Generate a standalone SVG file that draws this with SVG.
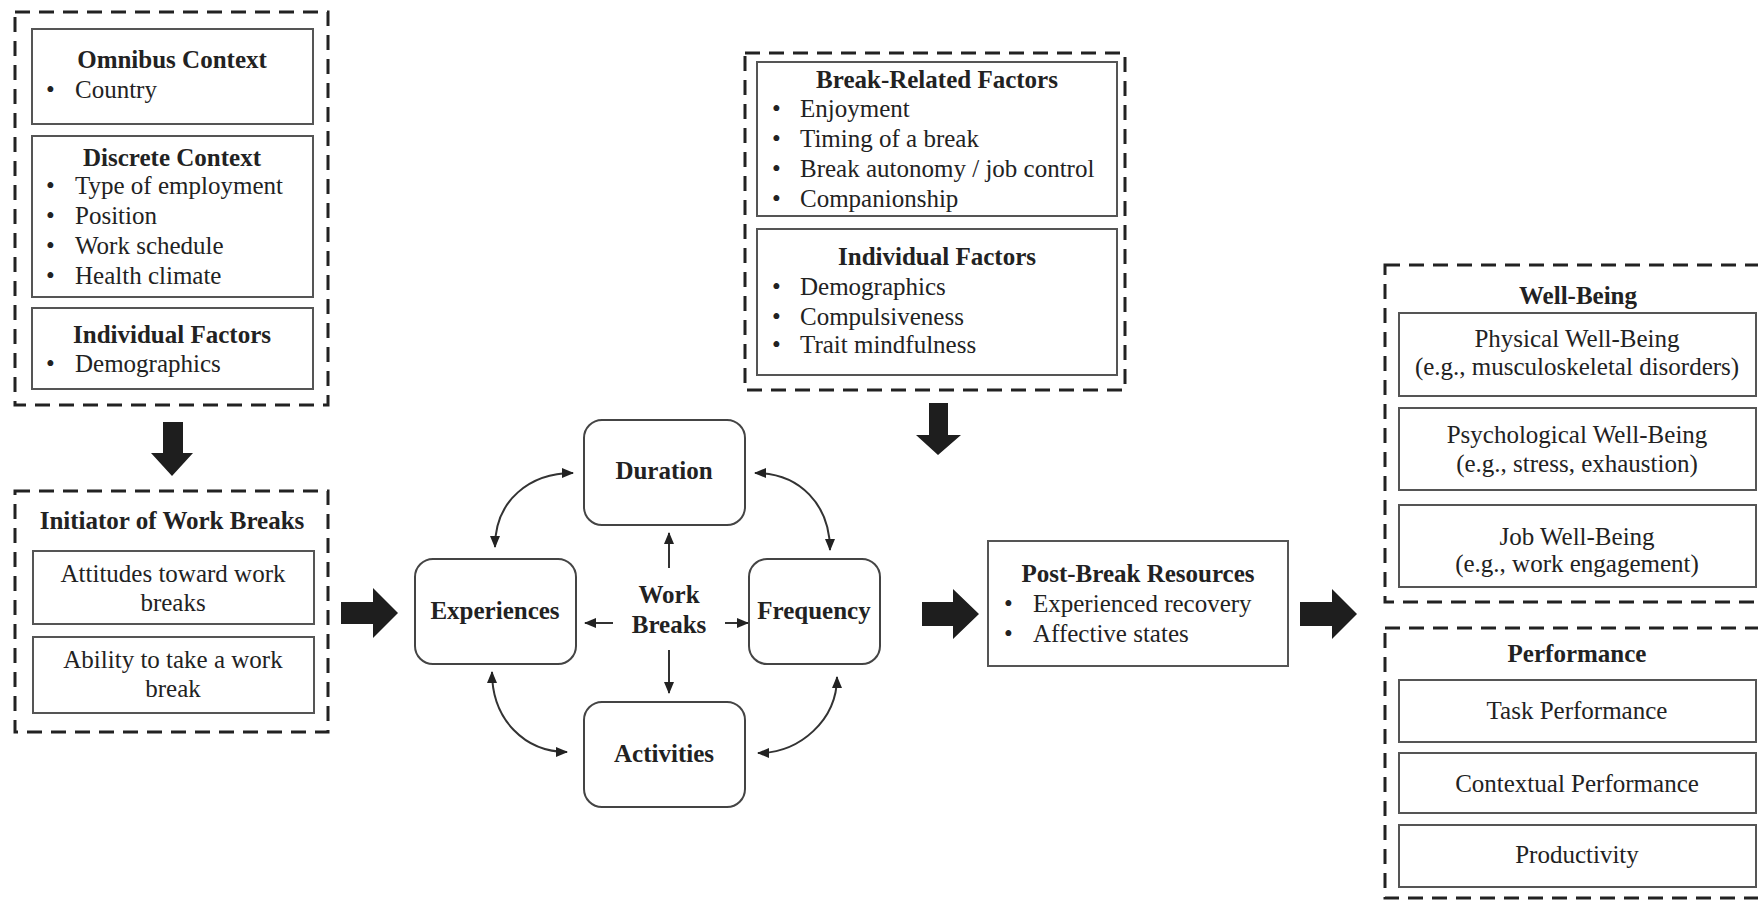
<svg xmlns="http://www.w3.org/2000/svg" width="1758" height="900" viewBox="0 0 1758 900">
<style>
.t{font-family:"Liberation Serif","Times New Roman",serif;font-size:25px;fill:#222}
.b{font-weight:bold}
.c{text-anchor:middle}
.dash{fill:none;stroke:#222;stroke-width:3;stroke-dasharray:15 9}
.box{fill:#fff;stroke:#555;stroke-width:2}
.rbox{fill:#fff;stroke:#444;stroke-width:2}
.big{fill:#1e1e1e}
.ln{fill:none;stroke:#333;stroke-width:2}
</style>
<defs>
<marker id="ah" viewBox="0 0 12 12" refX="11" refY="6" markerWidth="12" markerHeight="12" markerUnits="userSpaceOnUse" orient="auto-start-reverse">
<path d="M0,1 L12,6 L0,11 Z" fill="#222"/>
</marker>
</defs>
<rect width="1758" height="900" fill="#fff"/>

<g id="context">
<rect class="dash" x="15" y="12" width="313" height="393"/>
<rect class="box" x="32" y="29" width="281" height="95"/>
<text class="t b c" x="172" y="68">Omnibus Context</text>
<text class="t" x="46" y="98">•</text><text class="t" x="75" y="98">Country</text>
<rect class="box" x="32" y="136" width="281" height="161"/>
<text class="t b c" x="172" y="166">Discrete Context</text>
<text class="t" x="46" y="194">•</text><text class="t" x="75" y="194">Type of employment</text>
<text class="t" x="46" y="224">•</text><text class="t" x="75" y="224">Position</text>
<text class="t" x="46" y="254">•</text><text class="t" x="75" y="254">Work schedule</text>
<text class="t" x="46" y="284">•</text><text class="t" x="75" y="284">Health climate</text>
<rect class="box" x="32" y="308" width="281" height="81"/>
<text class="t b c" x="172" y="343">Individual Factors</text>
<text class="t" x="46" y="372">•</text><text class="t" x="75" y="372">Demographics</text>
</g>

<g id="initiator">
<rect class="dash" x="15" y="491" width="313" height="241"/>
<text class="t b c" x="172" y="529">Initiator of Work Breaks</text>
<rect class="box" x="33" y="551" width="281" height="73"/>
<text class="t c" x="173" y="582">Attitudes toward work</text>
<text class="t c" x="173" y="611">breaks</text>
<rect class="box" x="33" y="637" width="281" height="76"/>
<text class="t c" x="173" y="668">Ability to take a work</text>
<text class="t c" x="173" y="697">break</text>
</g>

<g id="factors">
<rect class="dash" x="745" y="53" width="380" height="337"/>
<rect class="box" x="757" y="62" width="360" height="154"/>
<text class="t b c" x="937" y="88">Break-Related Factors</text>
<text class="t" x="772" y="117">•</text><text class="t" x="800" y="117">Enjoyment</text>
<text class="t" x="772" y="147">•</text><text class="t" x="800" y="147">Timing of a break</text>
<text class="t" x="772" y="177">•</text><text class="t" x="800" y="177">Break autonomy / job control</text>
<text class="t" x="772" y="207">•</text><text class="t" x="800" y="207">Companionship</text>
<rect class="box" x="757" y="229" width="360" height="146"/>
<text class="t b c" x="937" y="265">Individual Factors</text>
<text class="t" x="772" y="295">•</text><text class="t" x="800" y="295">Demographics</text>
<text class="t" x="772" y="325">•</text><text class="t" x="800" y="325">Compulsiveness</text>
<text class="t" x="772" y="353">•</text><text class="t" x="800" y="353">Trait mindfulness</text>
</g>

<g id="duration">
<rect class="rbox" x="584" y="420" width="161" height="105" rx="18"/>
<text class="t b c" x="664" y="479">Duration</text>
</g>
<g id="experiences">
<rect class="rbox" x="415" y="559" width="161" height="105" rx="18"/>
<text class="t b c" x="495" y="619">Experiences</text>
</g>
<g id="frequency">
<rect class="rbox" x="749" y="559" width="131" height="105" rx="18"/>
<text class="t b c" x="814" y="619">Frequency</text>
</g>
<g id="activities">
<rect class="rbox" x="584" y="702" width="161" height="105" rx="18"/>
<text class="t b c" x="664" y="762">Activities</text>
</g>
<g id="workbreaks">
<text class="t b c" x="669" y="603">Work</text>
<text class="t b c" x="669" y="633">Breaks</text>
</g>

<g id="postbreak">
<rect class="box" x="988" y="541" width="300" height="125"/>
<text class="t b c" x="1138" y="582">Post-Break Resources</text>
<text class="t" x="1004" y="612">•</text><text class="t" x="1033" y="612">Experienced recovery</text>
<text class="t" x="1004" y="642">•</text><text class="t" x="1033" y="642">Affective states</text>
</g>

<g id="wellbeing">
<rect class="dash" x="1385" y="265" width="400" height="337"/>
<text class="t b c" x="1578" y="304">Well-Being</text>
<rect class="box" x="1399" y="313" width="357" height="83"/>
<text class="t c" x="1577" y="347">Physical Well-Being</text>
<text class="t c" x="1577" y="375">(e.g., musculoskeletal disorders)</text>
<rect class="box" x="1399" y="408" width="357" height="82"/>
<text class="t c" x="1577" y="443">Psychological Well-Being</text>
<text class="t c" x="1577" y="472">(e.g., stress, exhaustion)</text>
<rect class="box" x="1399" y="505" width="357" height="82"/>
<text class="t c" x="1577" y="545">Job Well-Being</text>
<text class="t c" x="1577" y="572">(e.g., work engagement)</text>
</g>

<g id="performance">
<rect class="dash" x="1385" y="628" width="400" height="270"/>
<text class="t b c" x="1577" y="662">Performance</text>
<rect class="box" x="1399" y="680" width="357" height="62"/>
<text class="t c" x="1577" y="719">Task Performance</text>
<rect class="box" x="1399" y="753" width="357" height="60"/>
<text class="t c" x="1577" y="792">Contextual Performance</text>
<rect class="box" x="1399" y="825" width="357" height="62"/>
<text class="t c" x="1577" y="863">Productivity</text>
</g>

<g id="connectors">
<polygon class="big" points="163,422 183,422 183,453 193,453 172,476 151,453 163,453"/>
<polygon class="big" points="341,602 373,602 373,588 398,613 373,638 373,624 341,624"/>
<polygon class="big" points="929,403 948,403 948,435 961,435 938,455 916,435 929,435"/>
<polygon class="big" points="922,602 953,602 953,589 979,614 953,639 953,626 922,626"/>
<polygon class="big" points="1300,602 1332,602 1332,589 1357,614 1332,639 1332,626 1300,626"/>
<line class="ln" x1="669" y1="568" x2="669" y2="533" marker-end="url(#ah)"/>
<line class="ln" x1="669" y1="650" x2="669" y2="693" marker-end="url(#ah)"/>
<line class="ln" x1="613" y1="623" x2="585" y2="623" marker-end="url(#ah)"/>
<line class="ln" x1="725" y1="623" x2="748" y2="623" marker-end="url(#ah)"/>
<path class="ln" d="M495,547 C495,500 530,473 573,473" marker-start="url(#ah)" marker-end="url(#ah)"/>
<path class="ln" d="M755,473 C800,473 830,505 830,550" marker-start="url(#ah)" marker-end="url(#ah)"/>
<path class="ln" d="M492,672 C492,720 525,752 567,752" marker-start="url(#ah)" marker-end="url(#ah)"/>
<path class="ln" d="M837,677 C837,720 800,753 758,753" marker-start="url(#ah)" marker-end="url(#ah)"/>
</g>
</svg>
